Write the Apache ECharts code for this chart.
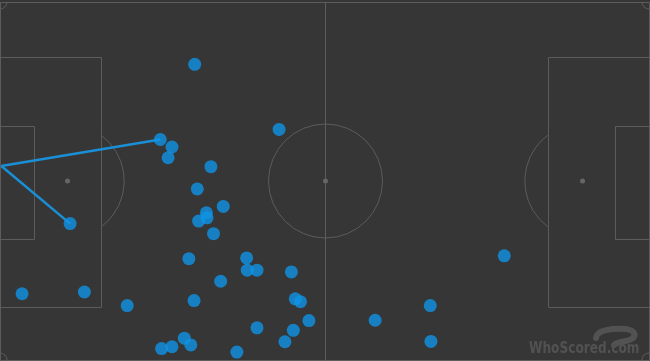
<!DOCTYPE html>
<html>
<head>
<meta charset="utf-8">
<script src="https://cdn.jsdelivr.net/npm/echarts@6/dist/echarts.min.js"></script>
<style>
html,body{margin:0;padding:0;background:#363636;}
#chart{width:650px;height:361px;}
</style>
</head>
<body>
<div id="chart"></div>
<script>
// Event locations (pitch units: x 0-100 left to right, y 0-100 top to bottom)
var pointX = [30.0,24.7,26.5,25.9,43.0,32.5,30.4,34.4,31.8,31.9,30.6,32.9,10.8,29.1,38.0,38.1,39.6,44.9,34.0,77.7,3.4,13.0,19.6,29.9,45.5,46.3,66.3,47.6,57.8,39.6,45.2,43.9,66.4,28.4,29.4,26.5,24.9,36.5];
var pointY = [17.4,38.4,40.5,43.5,35.6,46.0,52.2,57.1,58.9,60.3,61.2,64.7,61.9,71.7,71.5,74.9,74.9,75.4,78.0,70.9,81.5,81.0,84.8,83.4,82.9,83.7,84.8,89.0,88.9,91.0,91.7,94.9,94.8,93.9,95.8,96.3,96.8,97.8];
// Passes: start and end
var passStartX = [24.7,10.8];
var passStartY = [38.4,61.9];
var passEndX = [0.2,0.2];
var passEndY = [45.8,45.8];

// Pitch markings (pitch units)
var penBoxDepth = 15.6, penBoxTop = 15.4, penBoxBottom = 85.2;
var sixDepth = 5.25, sixTop = 34.6, sixBottom = 66.2;
var spotDist = 10.36;

var chart = echarts.init(document.getElementById('chart'));

var scatterData = pointX.map(function(x,i){return [x, pointY[i]];});
var passData = passStartX.map(function(x,i){return {coords:[[x,passStartY[i]],[passEndX[i],passEndY[i]]]};});

var lineStyle = {stroke:'#5c5c5c', fill:null, lineWidth:1};

function renderPitch(params, api){
  function c(x,y){return api.coord([x,y]);}
  var els = [];
  function rect(x0,y0,x1,y1){
    var a=c(x0,y0), b=c(x1,y1);
    els.push({type:'rect', shape:{x:Math.round(a[0])+0.5,y:Math.round(a[1])+0.5,width:Math.round(b[0]-a[0]),height:Math.round(b[1]-a[1])}, style:lineStyle, silent:true});
  }
  function line(x0,y0,x1,y1){
    var a=c(x0,y0), b=c(x1,y1);
    els.push({type:'line', shape:{x1:Math.round(a[0])+0.5,y1:a[1],x2:Math.round(b[0])+0.5,y2:b[1]}, style:lineStyle, silent:true});
  }
  var ctr = c(50,50);
  var lspot = c(spotDist,50), rspot = c(100-spotDist,50);
  var edgeL = c(penBoxDepth,50)[0], edgeR = c(100-penBoxDepth,50)[0];
  var r = 57;
  rect(0,0,100,100);
  rect(0,penBoxTop,penBoxDepth,penBoxBottom);
  rect(100-penBoxDepth,penBoxTop,100,penBoxBottom);
  rect(0,sixTop,sixDepth,sixBottom);
  rect(100-sixDepth,sixTop,100,sixBottom);
  line(50,0,50,100);
  els.push({type:'circle', shape:{cx:Math.round(ctr[0])+0.5,cy:ctr[1],r:r}, style:lineStyle, silent:true});
  var aL = Math.acos((edgeL-lspot[0])/r);
  els.push({type:'arc', shape:{cx:lspot[0],cy:lspot[1],r:r,startAngle:-aL,endAngle:aL}, style:lineStyle, silent:true});
  var aR = Math.acos((rspot[0]-edgeR)/r);
  els.push({type:'arc', shape:{cx:rspot[0],cy:rspot[1],r:r,startAngle:Math.PI-aR,endAngle:Math.PI+aR}, style:lineStyle, silent:true});
  [ctr,lspot,rspot].forEach(function(p){
    els.push({type:'circle', shape:{cx:Math.round(p[0])+0.5,cy:p[1],r:2.5}, style:{fill:'#666666'}, silent:true});
  });
  var tl=c(0,0), br=c(100,100);
  els.push({type:'arc', shape:{cx:tl[0],cy:tl[1],r:7,startAngle:0,endAngle:Math.PI/2}, style:lineStyle, silent:true});
  els.push({type:'arc', shape:{cx:tl[0],cy:br[1],r:7,startAngle:-Math.PI/2,endAngle:0}, style:lineStyle, silent:true});
  els.push({type:'arc', shape:{cx:br[0],cy:tl[1],r:7,startAngle:Math.PI/2,endAngle:Math.PI}, style:lineStyle, silent:true});
  els.push({type:'arc', shape:{cx:br[0],cy:br[1],r:7,startAngle:Math.PI,endAngle:Math.PI*1.5}, style:lineStyle, silent:true});
  return {type:'group', children:els};
}

var logoStyle = {stroke:'#525252', lineWidth:6, fill:null, lineCap:'round'};

chart.setOption({
  backgroundColor:'#363636',
  animation:false,
  grid:{left:0, right:1, top:2, bottom:1},
  xAxis:{type:'value', min:0, max:100, show:false},
  yAxis:{type:'value', min:0, max:100, inverse:true, show:false},
  graphic:[
    {type:'group', x:593, y:327, silent:true, children:[
      {type:'bezierCurve', shape:{x1:3,y1:11,cpx1:3,cpy1:3,cpx2:20,cpy2:1,x2:32,y2:2}, style:logoStyle},
      {type:'bezierCurve', shape:{x1:32,y1:2,cpx1:42,cpy1:3,cpx2:43,cpy2:8,x2:40,y2:11}, style:logoStyle},
      {type:'bezierCurve', shape:{x1:40,y1:11,cpx1:36,cpy1:15,cpx2:24,cpy2:14,x2:21,y2:18}, style:logoStyle}
    ]},
    {type:'text', x:529, y:341, scaleX:0.76, style:{text:'WhoScored.com', font:'bold 16px "DejaVu Sans"', fill:'#525252'}, silent:true}
  ],
  series:[
    {type:'custom', renderItem:renderPitch, data:[[0,0]], silent:true, z:1, clip:false},
    {type:'lines', coordinateSystem:'cartesian2d', data:passData, lineStyle:{color:'#1a8fd6', width:2.5, opacity:1}, silent:true, z:2},
    {type:'scatter', data:scatterData, symbolSize:13, itemStyle:{color:'#1094e6'}, z:3}
  ]
});
</script>
</body>
</html>
